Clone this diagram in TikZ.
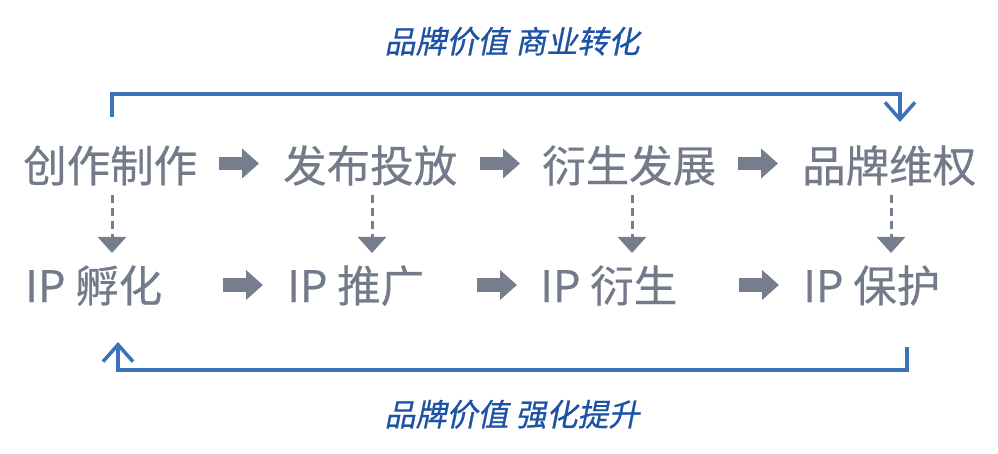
\documentclass[tikz,border=0pt]{standalone}
\usepackage{fontspec}
\usetikzlibrary{arrows.meta}
\newfontfamily\cjk[FakeBold=0.4]{Noto Sans CJK SC}
\newfontfamily\cjklbl[FakeSlant=0.2,FakeBold=0.7]{Noto Sans CJK SC}
\definecolor{txtgray}{HTML}{737A89}
\definecolor{arrgray}{HTML}{767E8E}
\definecolor{lineblue}{HTML}{3B72B8}
\definecolor{lblblue}{HTML}{1D52A5}
\tikzset{
  stage/.style={anchor=base west, inner sep=0pt, text=txtgray, font=\cjk\fontsize{43.5pt}{50pt}\selectfont},
  lbl/.style={anchor=base, inner sep=0pt, text=lblblue, font=\cjklbl\fontsize{31pt}{36pt}\selectfont},
  blk/.style={draw=arrgray, line width=13pt, -{Triangle[width=29pt,length=17pt]}},
  dasharrow/.style={draw=arrgray, line width=3pt, dash pattern=on 8pt off 5pt, -{Triangle[width=28pt,length=16pt]}},
  bl/.style={draw=lineblue, line width=3.5pt, -{Straight Barb[width=30pt,length=17pt]}}
}
\begin{document}
\begin{tikzpicture}[x=1pt,y=-1pt]
\path[use as bounding box, fill=white] (0,0) rectangle (998,454);
% top row
\node[stage] (t1) at (23,182) {创作制作};
\node[stage] (t2) at (283,182) {发布投放};
\node[stage] (t3) at (542,182) {衍生发展};
\node[stage] (t4) at (802,182) {品牌维权};
% bottom row
\node[stage] (b1) at (25,302) {IP 孵化};
\node[stage] (b2) at (287,302) {IP 推广};
\node[stage] (b3) at (540,302) {IP 衍生};
\node[stage] (b4) at (803,302) {IP 保护};
% labels
\node[lbl] (ltop) at (512,53) {品牌价值 商业转化};
\node[lbl] (lbot) at (512,426) {品牌价值 强化提升};
% block arrows top
\draw[blk] ([shift={(-64pt,18.5pt)}]t2.base west) -- ([shift={(-24pt,18.5pt)}]t2.base west);
\draw[blk] ([shift={(-62pt,18.5pt)}]t3.base west) -- ([shift={(-22pt,18.5pt)}]t3.base west);
\draw[blk] ([shift={(-64pt,18.5pt)}]t4.base west) -- ([shift={(-24pt,18.5pt)}]t4.base west);
% block arrows bottom
\draw[blk] ([shift={(-64pt,17pt)}]b2.base west) -- ([shift={(-24pt,17pt)}]b2.base west);
\draw[blk] ([shift={(-63pt,17pt)}]b3.base west) -- ([shift={(-23pt,17pt)}]b3.base west);
\draw[blk] ([shift={(-64pt,17pt)}]b4.base west) -- ([shift={(-24pt,17pt)}]b4.base west);
% dashed down arrows
\draw[dasharrow] ([shift={(89pt,-13pt)}]t1.base west) -- ([shift={(89pt,-71pt)}]t1.base west);
\draw[dasharrow] ([shift={(89pt,-13pt)}]t2.base west) -- ([shift={(89pt,-71pt)}]t2.base west);
\draw[dasharrow] ([shift={(90pt,-13pt)}]t3.base west) -- ([shift={(90pt,-71pt)}]t3.base west);
\draw[dasharrow] ([shift={(89pt,-13pt)}]t4.base west) -- ([shift={(89pt,-71pt)}]t4.base west);
% blue feedback connectors
\draw[bl] ([shift={(89pt,65pt)}]t1.base west) -- ++(0pt,23pt) -| ([shift={(98pt,60pt)}]t4.base west);
\draw[bl] ([shift={(104pt,-45pt)}]b4.base west) -- ++(0pt,-23pt) -| ([shift={(93pt,-40pt)}]b1.base west);
\end{tikzpicture}
\end{document}
